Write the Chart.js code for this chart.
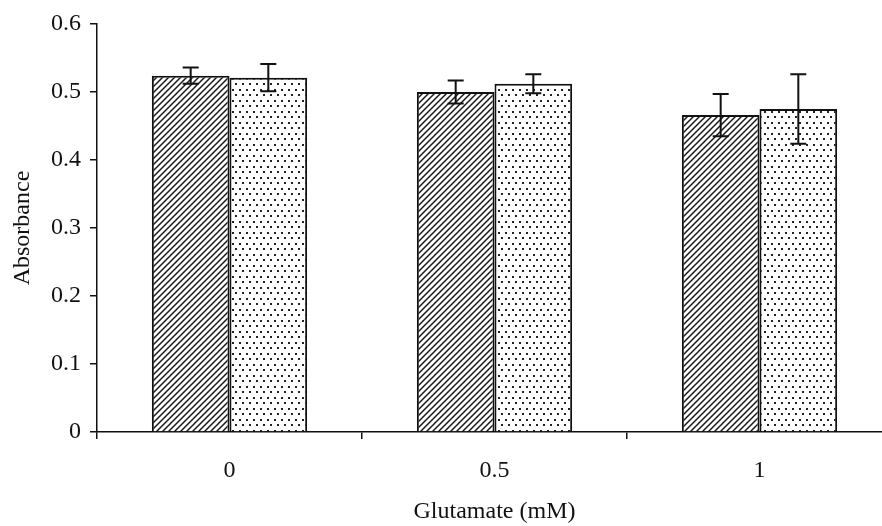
<!DOCTYPE html>
<html>
<head>
<meta charset="utf-8">
<script src="https://cdn.jsdelivr.net/npm/chart.js@4/dist/chart.umd.min.js"></script>
<style>
  html, body { margin: 0; padding: 0; background: #fff; overflow: hidden; }
  #wrap { width: 882px; height: 526px; overflow: hidden; }
</style>
</head>
<body>
<div id="wrap"><canvas id="absChart" width="892" height="526"></canvas></div>
<script>
// data
const categories = ['0', '0.5', '1'];
const hatchedValues = [0.524, 0.500, 0.466];
const hatchedErrors = [0.012, 0.017, 0.031];
const dottedValues = [0.521, 0.512, 0.475];
const dottedErrors = [0.020, 0.014, 0.051];
const yTicks = [0, 0.1, 0.2, 0.3, 0.4, 0.5, 0.6];

function hatchPattern() {
    let c = document.createElement('canvas');
    c.width = 6; c.height = 6;
    let g = c.getContext('2d');
    g.fillStyle = '#fff';
    g.fillRect(0, 0, 6, 6);
    g.strokeStyle = '#1a1a1a';
    g.lineWidth = 1.5;
    g.beginPath();
    g.moveTo(-1, 7); g.lineTo(7, -1);
    g.moveTo(-4, 4); g.lineTo(4, -4);
    g.moveTo(2, 10); g.lineTo(10, 2);
    g.stroke();
    return g.createPattern(c, 'repeat');
}

function dotPattern() {
    let c = document.createElement('canvas');
    c.width = 7; c.height = 11;
    let g = c.getContext('2d');
    g.fillStyle = '#fff';
    g.fillRect(0, 0, 7, 11);
    g.fillStyle = '#222';
    g.fillRect(1, 1, 2, 2);
    g.fillRect(4, 6, 2, 2);
    return g.createPattern(c, 'repeat');
}

// error bars drawn from the scale
const errorBars = {
    id: 'errorBars',
    afterDatasetsDraw(chart) {
        const ctx = chart.ctx;
        const yScale = chart.scales.y;
        ctx.save();
        ctx.strokeStyle = '#111';
        ctx.lineWidth = 2;
        chart.data.datasets.forEach((ds, di) => {
            const meta = chart.getDatasetMeta(di);
            meta.data.forEach((bar, i) => {
                const v = ds.data[i], e = ds.errors[i];
                const top = yScale.getPixelForValue(v + e);
                const bot = yScale.getPixelForValue(v - e);
                ctx.beginPath();
                ctx.moveTo(bar.x, top); ctx.lineTo(bar.x, bot);
                ctx.moveTo(bar.x - 8, top); ctx.lineTo(bar.x + 8, top);
                ctx.moveTo(bar.x - 8, bot); ctx.lineTo(bar.x + 8, bot);
                ctx.stroke();
            });
        });
        ctx.restore();
    }
};

const whiteBg = {
    id: 'whiteBg',
    beforeDraw(chart) {
        const ctx = chart.ctx;
        ctx.save();
        ctx.fillStyle = '#fff';
        ctx.fillRect(0, 0, chart.width, chart.height);
        ctx.restore();
    }
};

const serif = 'Liberation Serif, Times New Roman, serif';

new Chart(document.getElementById('absChart').getContext('2d'), {
    type: 'bar',
    data: {
        labels: categories,
        datasets: [{
            data: hatchedValues,
            errors: hatchedErrors,
            backgroundColor: hatchPattern(),
            borderColor: '#111',
            borderWidth: 2,
            categoryPercentage: 0.586,
            barPercentage: 1.0
        }, {
            data: dottedValues,
            errors: dottedErrors,
            backgroundColor: dotPattern(),
            borderColor: '#111',
            borderWidth: 2,
            categoryPercentage: 0.586,
            barPercentage: 1.0
        }]
    },
    options: {
        responsive: false,
        animation: false,
        layout: { padding: { top: 24, right: 0, left: 0, bottom: 0 } },
        plugins: {
            legend: { display: false },
            tooltip: { enabled: false }
        },
        scales: {
            x: {
                grid: { drawOnChartArea: false, drawTicks: true, tickLength: 7, color: '#111', lineWidth: 1.5 },
                border: { display: true, color: '#111', width: 1.5 },
                ticks: { color: '#111', font: { family: serif, size: 24 }, padding: 17 },
                title: { display: true, text: 'Glutamate (mM)', color: '#111',
                         font: { family: serif, size: 24 }, padding: { top: 0, bottom: 0 } },
                afterFit: (s) => { s.height = 94; }
            },
            y: {
                min: 0,
                max: 0.6,
                afterBuildTicks: (s) => { s.ticks = yTicks.map(v => ({ value: v })); },
                grid: { drawOnChartArea: false, drawTicks: true, tickLength: 7, color: '#111', lineWidth: 1.5 },
                border: { display: true, color: '#111', width: 1.5 },
                ticks: { color: '#111', font: { family: serif, size: 24 }, padding: 9,
                         callback: (v) => String(Math.round(v * 10) / 10) },
                title: { display: true, text: 'Absorbance', color: '#111',
                         font: { family: serif, size: 24 }, padding: { top: 8, bottom: 0 } },
                afterFit: (s) => { s.width = 97; }
            }
        }
    },
    plugins: [whiteBg, errorBars]
});
</script>
</body>
</html>
